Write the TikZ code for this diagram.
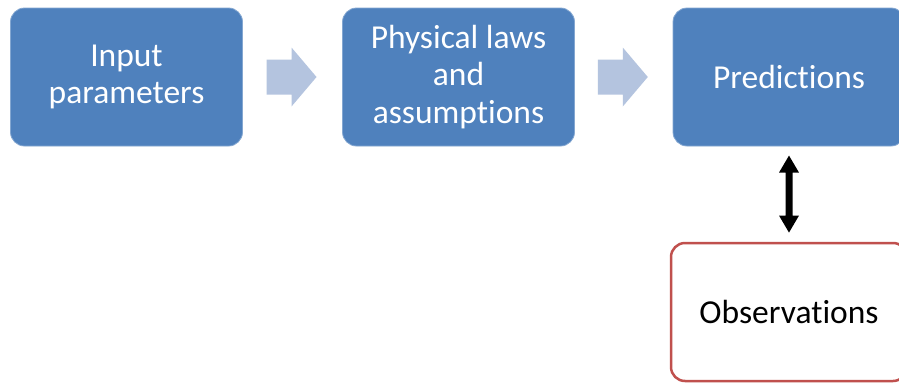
\documentclass[tikz,border=0pt]{standalone}
\usepackage{fontspec}
\setmainfont{Carlito}[Ligatures={NoCommon}]
\usetikzlibrary{calc}
\definecolor{boxblue}{HTML}{4F81BD}
\definecolor{arrowblue}{HTML}{B4C4DF}
\definecolor{obsred}{HTML}{C0504D}
\tikzset{
  stage/.style={rectangle, rounded corners=14pt, fill=boxblue, draw=boxblue!70!white,
    line width=0.8pt, minimum width=232pt, minimum height=138pt, text=white,
    font=\fontsize{33.5}{37.5}\selectfont, align=center, inner sep=0pt},
  obsbox/.style={rectangle, rounded corners=14pt, fill=white, draw=obsred,
    line width=2.5pt, minimum width=236pt, minimum height=138pt, text=black,
    font=\fontsize{33.5}{37.5}\selectfont, align=center, inner sep=0pt},
  blockarrow/.style={fill=arrowblue},
  dblarrow/.style={fill=black}
}
\begin{document}
\begin{tikzpicture}[x=1pt,y=1pt]
  \useasboundingbox (0,0) rectangle (899,-383);
  \clip (0,0) rectangle (899,-383);
  \fill[white] (0,0) rectangle (899,-383);
  \node[stage] (inp) at (126.5,-77) {Input\\parameters};
  \node[stage] (phys) at (458.5,-77) {Physical laws\\and\\assumptions};
  \node[stage] (pred) at (789,-77) {Predictions};
  \node[obsbox] (obs) at (789,-312) {Observations};
  % block arrows
  \coordinate (m1) at ($(inp.east)!0.49!(phys.west)$);
  \coordinate (m2) at ($(phys.east)!0.49!(pred.west)$);
  \foreach \m in {m1,m2}{
    \begin{scope}[shift={(\m)}]
      \fill[blockarrow] (-25,17.5) -- (0,17.5) -- (0,29.5) -- (25,0) -- (0,-29.5)
        -- (0,-17.5) -- (-25,-17.5) -- cycle;
    \end{scope}
  }
  % double arrow between predictions and observations
  \coordinate (dm) at ($(pred.south)!0.5!(obs.north)$);
  \begin{scope}[shift={(dm)}]
    \fill[dblarrow] (0,38.5) -- (10,21.5) -- (3.5,21.5) -- (3.5,-21.5) -- (10,-21.5)
      -- (0,-38.5) -- (-10,-21.5) -- (-3.5,-21.5) -- (-3.5,21.5) -- (-10,21.5) -- cycle;
  \end{scope}
\end{tikzpicture}
\end{document}
